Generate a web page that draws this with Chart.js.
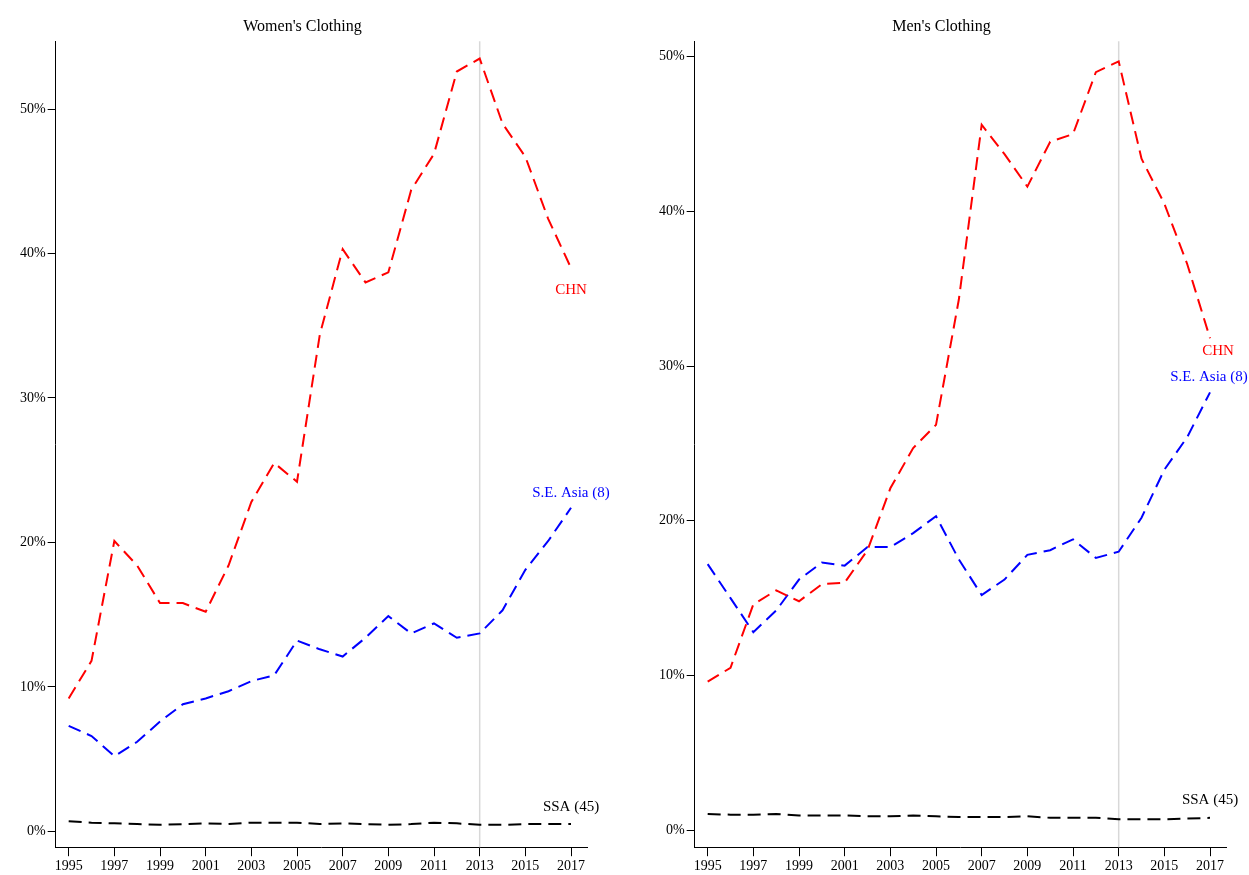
<!DOCTYPE html>
<html>
<head>
<meta charset="utf-8">
<script src="https://cdn.jsdelivr.net/npm/chart.js@4"></script>
<style>
  body { margin: 0; background: #fff; }
  .wrap { position: absolute; top: 0; }
</style>
</head>
<body>
<div class="wrap" style="left:0;width:620px;height:877px"><canvas id="women"></canvas></div>
<div class="wrap" style="left:632px;width:617px;height:877px"><canvas id="men"></canvas></div>
<script>
// --- data ---
const years = [1995,1996,1997,1998,1999,2000,2001,2002,2003,2004,2005,2006,2007,2008,2009,2010,2011,2012,2013,2014,2015,2016,2017];
const xTicks = [1995,1997,1999,2001,2003,2005,2007,2009,2011,2013,2015,2017];
const yTicks = [0,10,20,30,40,50];

const womenCHN = [9.2,11.8,20.1,18.4,15.8,15.8,15.2,18.4,22.8,25.5,24.2,34.4,40.3,38.0,38.7,44.4,46.9,52.6,53.5,49.0,46.7,42.4,39.0];
const womenSEA = [7.3,6.6,5.2,6.2,7.6,8.8,9.2,9.7,10.4,10.8,13.2,12.6,12.1,13.4,14.9,13.7,14.4,13.4,13.7,15.3,18.1,20.1,22.4];
const womenSSA = [0.7,0.6,0.55,0.5,0.45,0.5,0.55,0.5,0.6,0.6,0.6,0.5,0.55,0.5,0.45,0.5,0.6,0.55,0.45,0.45,0.5,0.5,0.5];

const menCHN = [9.6,10.5,14.6,15.5,14.8,15.9,16.0,18.1,22.1,24.7,26.2,34.3,45.6,43.7,41.6,44.5,45.0,49.0,49.7,43.4,40.5,36.6,31.8];
const menSEA = [17.2,15.0,12.8,14.2,16.2,17.3,17.1,18.3,18.3,19.2,20.3,17.5,15.2,16.2,17.8,18.1,18.8,17.6,18.0,20.2,23.3,25.4,28.3];
const menSSA = [1.05,1.0,1.0,1.05,0.95,0.95,0.95,0.9,0.9,0.95,0.9,0.85,0.85,0.85,0.9,0.8,0.8,0.8,0.7,0.7,0.7,0.75,0.8];

const seriesNames = ['CHN', 'S.E. Asia (8)', 'SSA (45)'];
const seriesColors = ['#ff0000', '#0000ff', '#000000'];
const markYear = 2013;

const FONT = '"Liberation Serif", "DejaVu Serif", serif';

// end-of-line labels + vertical marker line
const endLabels = {
    id: 'endLabels',
    beforeDatasetsDraw(chart) {
        const { ctx, chartArea, scales } = chart;
        const x = scales.x.getPixelForValue(markYear);
        ctx.save();
        ctx.strokeStyle = '#d8d8d8';
        ctx.lineWidth = 1.5;
        ctx.beginPath();
        ctx.moveTo(x, chartArea.top);
        ctx.lineTo(x, chartArea.bottom);
        ctx.stroke();
        ctx.restore();
    },
    afterDatasetsDraw(chart, args, opts) {
        const { ctx } = chart;
        ctx.save();
        ctx.font = '15px ' + FONT;
        ctx.textBaseline = 'middle';
        chart.data.datasets.forEach((ds, i) => {
            const meta = chart.getDatasetMeta(i);
            const pt = meta.data[meta.data.length - 1];
            const o = opts.offsets[i];
            ctx.fillStyle = ds.borderColor;
            ctx.textAlign = 'center';
            ctx.fillText(ds.label, pt.x + o[0], pt.y + o[1]);
        });
        ctx.restore();
    }
};

function makeChart(id, title, data, yMax, offsets, pad) {
    new Chart(document.getElementById(id), {
        type: 'line',
        data: {
            labels: years,
            datasets: data.map((d, i) => ({
                label: seriesNames[i],
                data: years.map((y, j) => ({ x: y, y: d[j] })),
                borderColor: seriesColors[i],
                borderWidth: 2,
                borderDash: [13, 7],
                pointRadius: 0,
                tension: 0
            }))
        },
        options: {
            responsive: true,
            maintainAspectRatio: false,
            animation: false,
            layout: { padding: pad },
            plugins: {
                legend: { display: false },
                tooltip: { enabled: false },
                title: {
                    display: true, text: title, color: '#000',
                    font: { family: FONT, size: 16, weight: 'normal' },
                    padding: { top: 17, bottom: 5 }
                },
                endLabels: { offsets }
            },
            scales: {
                x: {
                    type: 'linear', min: 1994.43, max: 2017.7,
                    afterBuildTicks: a => { a.ticks = xTicks.map(v => ({ value: v })); },
                    ticks: { color: '#000', font: { family: FONT, size: 14 }, maxRotation: 0, autoSkip: false, padding: 2, callback: v => v },
                    grid: { drawOnChartArea: false, color: '#000', tickLength: 9 },
                    border: { color: '#000', width: 1 }
                },
                y: {
                    min: -1.1, max: yMax,
                    afterBuildTicks: a => { a.ticks = yTicks.map(v => ({ value: v })); },
                    ticks: { color: '#000', font: { family: FONT, size: 14 }, padding: 2, callback: v => v + '%' },
                    grid: { drawOnChartArea: false, color: '#000', tickLength: 8 },
                    border: { color: '#000', width: 1 }
                }
            }
        },
        plugins: [endLabels]
    });
}

makeChart('women', "Women's Clothing", [womenCHN, womenSEA, womenSSA], 54.7,
    [[0, 22], [0, -15], [0, -17]], { left: 18, right: 33, bottom: 0 });
makeChart('men', "Men's Clothing", [menCHN, menSEA, menSSA], 51,
    [[8, 13], [-1, -15], [0, -18]], { left: 25, right: 23, bottom: 0 });
</script>
</body>
</html>
